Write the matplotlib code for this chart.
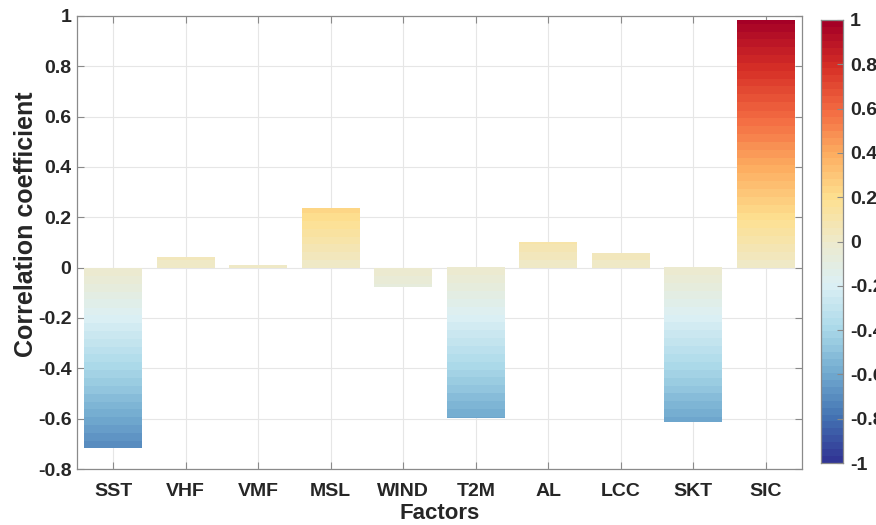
import matplotlib.pyplot as plt
import numpy as np
from matplotlib.colors import ListedColormap, LinearSegmentedColormap, Normalize

plt.rcParams['font.family'] = ['Liberation Sans', 'DejaVu Sans']
plt.rcParams['font.weight'] = 'bold'

# correlation of each factor
factors = ['SST', 'VHF', 'VMF', 'MSL', 'WIND', 'T2M', 'AL', 'LCC', 'SKT', 'SIC']
corr = [-0.715, 0.043, 0.01, 0.238, -0.075, -0.598, 0.103, 0.056, -0.612, 0.982]
yticks = [-0.8, -0.6, -0.4, -0.2, 0, 0.2, 0.4, 0.6, 0.8, 1]
cticks = [-1, -0.8, -0.6, -0.4, -0.2, 0, 0.2, 0.4, 0.6, 0.8, 1]

# red-yellow-blue map with a muted centre, 64 discrete levels
base = ['#313695', '#4575b4', '#74add1', '#abd9e9', '#dcf0f5', '#eeeacc',
        '#fee090', '#fdae61', '#f46d43', '#d73027', '#a50026']
smooth = LinearSegmentedColormap.from_list('rdylbu_m', base)
cmap = ListedColormap(smooth(np.linspace(0, 1, 64)))
norm = Normalize(-1, 1)

fig = plt.figure(figsize=(8.76, 5.25), dpi=100)
ax = fig.add_axes([77/876, 1 - 469/525, (802-77)/876, (469-16)/525])
cax = fig.add_axes([821/876, 1 - 463/525, 22/876, (463-20)/525])

grey = '#8a8a8a'
txt = '#262626'

x = np.arange(1, len(factors) + 1)
w = 0.8
for xi, v in zip(x, corr):
    col = np.linspace(0, v, 400).reshape(-1, 1)
    ax.imshow(col, cmap=cmap, norm=norm, aspect='auto', origin='lower',
              extent=[xi - w/2, xi + w/2, 0, v], interpolation='nearest', zorder=2)

ax.set_xlim(0.5, 10.5)
ax.set_ylim(-0.8, 1)
ax.set_xticks(x)
ax.set_xticklabels(factors)
ax.set_yticks(yticks)
ax.set_yticklabels(['%g' % t for t in yticks])
ax.grid(True, color='#e6e6e6', linewidth=0.8, zorder=0)
ax.set_axisbelow(True)
ax.tick_params(direction='in', length=5, width=0.8, color=grey, labelcolor=txt,
               labelsize=14, top=True, right=True)
ax.tick_params(axis='x', pad=10)
ax.tick_params(axis='y', pad=4)
for s in ax.spines.values():
    s.set_color(grey)
    s.set_linewidth(0.9)
ax.set_xlabel('Factors', fontsize=16, fontweight='bold', color=txt, labelpad=2)
ax.set_ylabel('Correlation coefficient', fontsize=18, fontweight='bold', color=txt,
              labelpad=0, y=0.54)

# colorbar
cv = np.linspace(-1, 1, 640).reshape(-1, 1)
cax.imshow(cv, cmap=cmap, norm=norm, aspect='auto', origin='lower',
           extent=[0, 1, -1, 1], interpolation='nearest')
cax.set_xlim(0, 1)
cax.set_ylim(-1, 1)
cax.set_xticks([])
cax.yaxis.tick_right()
cax.set_yticks(cticks)
cax.set_yticklabels(['%g' % t for t in cticks])
cax.tick_params(axis='y', direction='in', length=4, width=0.8, color=grey,
                labelcolor=txt, labelsize=14, pad=5)
for s in cax.spines.values():
    s.set_color(grey)
    s.set_linewidth(0.9)

fig.savefig('out.png', dpi=100)
